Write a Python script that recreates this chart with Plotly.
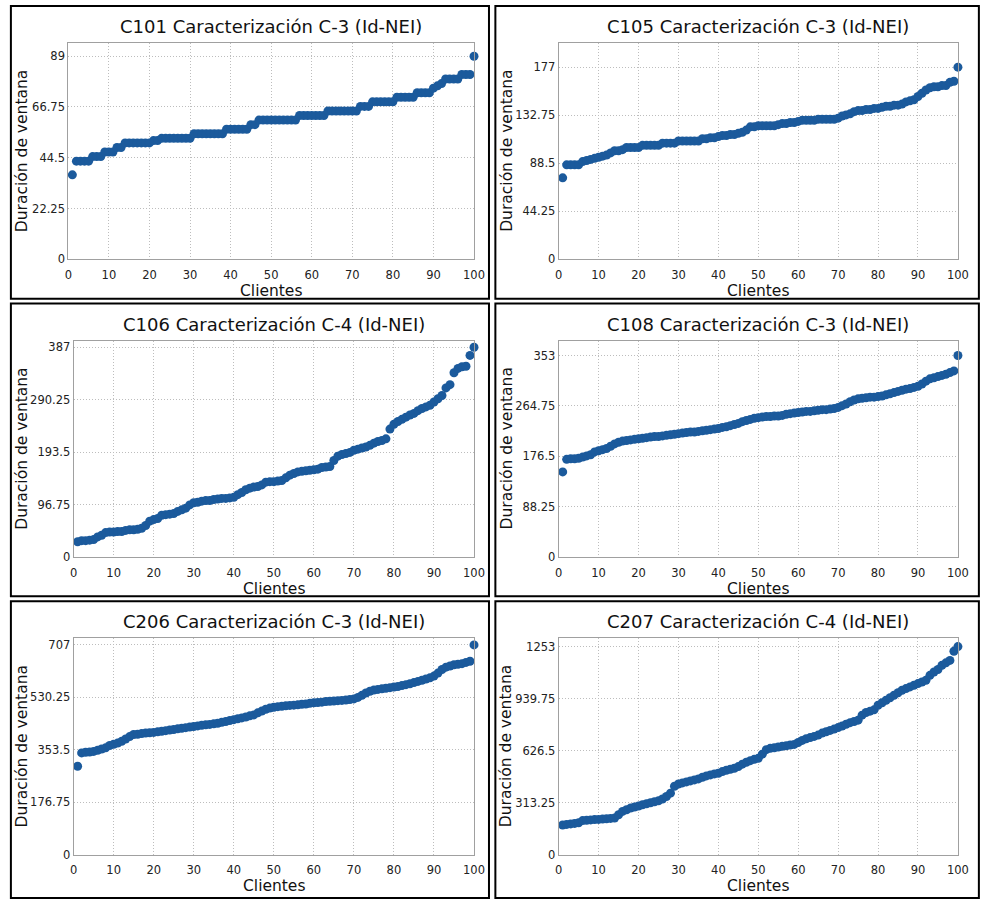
import plotly.graph_objects as go

W, H = 982, 900

clientes = list(range(1, 101))

titles = [
    "C101 Caracterización C-3 (Id-NEI)",
    "C105 Caracterización C-3 (Id-NEI)",
    "C106 Caracterización C-4 (Id-NEI)",
    "C108 Caracterización C-3 (Id-NEI)",
    "C206 Caracterización C-3 (Id-NEI)",
    "C207 Caracterización C-4 (Id-NEI)",
]

c101 = [37, 43, 43, 43, 43, 45, 45, 45, 47, 47,
        47, 49, 49, 51, 51, 51, 51, 51, 51, 51,
        52, 52, 53, 53, 53, 53, 53, 53, 53, 53,
        55, 55, 55, 55, 55, 55, 55, 55, 57, 57,
        57, 57, 57, 57, 59, 59, 61, 61, 61, 61,
        61, 61, 61, 61, 61, 61, 63, 63, 63, 63,
        63, 63, 63, 65, 65, 65, 65, 65, 65, 65,
        65, 67, 67, 67, 69, 69, 69, 69, 69, 69,
        71, 71, 71, 71, 71, 73, 73, 73, 73, 75,
        76, 77, 79, 79, 79, 79, 81, 81, 81, 89]

c105 = [75, 87, 87, 87, 87, 90, 91, 92, 93, 94,
        95, 96, 98, 100, 100, 101, 103, 103, 103, 103,
        105, 105, 105, 105, 105, 107, 107, 107, 107, 109,
        109, 109, 109, 109, 109, 111, 111, 112, 112, 113,
        114, 114, 115, 115, 116, 117, 119, 122, 122, 123,
        123, 123, 123, 123, 124, 125, 125, 126, 126, 127,
        128, 128, 128, 128, 129, 129, 129, 129, 129, 130,
        132, 133, 134, 136, 137, 137, 138, 138, 139, 139,
        140, 141, 141, 142, 142, 143, 145, 146, 147, 150,
        153, 156, 158, 159, 159, 160, 160, 163, 164, 177]

c106 = [28, 30, 30, 31, 32, 37, 40, 45, 46, 46,
        47, 47, 49, 50, 50, 51, 53, 58, 66, 69,
        71, 77, 78, 79, 80, 84, 87, 90, 96, 100,
        101, 103, 104, 104, 106, 107, 108, 108, 109, 110,
        115, 119, 124, 127, 129, 130, 133, 138, 139, 139,
        140, 141, 146, 151, 154, 157, 158, 159, 160, 161,
        162, 165, 166, 167, 178, 186, 189, 191, 193, 197,
        199, 201, 203, 206, 210, 213, 215, 218, 236, 245,
        250, 254, 258, 262, 265, 270, 274, 277, 280, 286,
        292, 298, 312, 318, 340, 348, 351, 352, 372, 387]

c108 = [149, 171, 172, 172, 173, 175, 177, 179, 184, 186,
        188, 190, 194, 198, 201, 203, 204, 205, 206, 207,
        208, 209, 210, 211, 211, 212, 213, 214, 215, 216,
        217, 218, 219, 219, 220, 221, 222, 223, 224, 225,
        227, 228, 230, 232, 234, 237, 239, 241, 243, 244,
        245, 246, 246, 247, 247, 248, 250, 251, 252, 253,
        254, 255, 255, 256, 257, 258, 258, 259, 260, 262,
        265, 268, 272, 275, 277, 278, 279, 280, 280, 281,
        282, 284, 286, 288, 290, 292, 294, 295, 297, 299,
        303, 308, 312, 314, 316, 318, 320, 323, 326, 353]

c206 = [298, 343, 345, 346, 348, 352, 356, 360, 368, 372,
        376, 382, 390, 398, 405, 406, 408, 410, 411, 412,
        414, 416, 418, 420, 422, 424, 426, 428, 430, 432,
        434, 436, 438, 439, 441, 443, 446, 449, 452, 455,
        458, 461, 464, 468, 471, 478, 484, 490, 494, 497,
        499, 500, 502, 503, 504, 505, 507, 508, 510, 512,
        513, 514, 516, 517, 518, 519, 520, 521, 523, 525,
        530, 537, 545, 551, 555, 557, 559, 561, 563, 565,
        567, 570, 573, 576, 580, 584, 588, 592, 596, 602,
        612, 624, 632, 636, 640, 642, 644, 648, 652, 707]

c207 = [178, 182, 185, 188, 192, 205, 207, 209, 211, 212,
        214, 216, 218, 220, 240, 260, 270, 280, 287, 293,
        300, 306, 312, 318, 324, 335, 350, 370, 412, 425,
        432, 438, 444, 450, 456, 466, 474, 480, 486, 490,
        500, 508, 514, 520, 530, 545, 556, 566, 574, 580,
        605, 632, 640, 644, 648, 652, 656, 660, 664, 675,
        688, 698, 705, 712, 720, 732, 740, 748, 756, 765,
        775, 785, 795, 802, 810, 840, 856, 864, 872, 900,
        915, 930, 945, 960, 975, 990, 1000, 1010, 1020, 1030,
        1040, 1050, 1080, 1100, 1115, 1140, 1155, 1170, 1225, 1253]

series = [c101, c105, c106, c108, c206, c207]

y_tickvals = [
    [0, 22.25, 44.5, 66.75, 89],
    [0, 44.25, 88.5, 132.75, 177],
    [0, 96.75, 193.5, 290.25, 387],
    [0, 88.25, 176.5, 264.75, 353],
    [0, 176.75, 353.5, 530.25, 707],
    [0, 313.25, 626.5, 939.75, 1253],
]
y_ticktext = [
    ["0", "22.25", "44.5", "66.75", "89"],
    ["0", "44.25", "88.5", "132.75", "177"],
    ["0", "96.75", "193.5", "290.25", "387"],
    ["0", "88.25", "176.5", "264.75", "353"],
    ["0", "176.75", "353.5", "530.25", "707"],
    ["0", "313.25", "626.5", "939.75", "1253"],
]
y_top = [94.8, 199.3, 399.3, 379.0, 729.4, 1303.0]

x_tickvals = [0, 10, 20, 30, 40, 50, 60, 70, 80, 90, 100]

xlabel = "Clientes"
ylabel = "Duración de ventana"

# layout geometry (pixels)
plot_left = [65.3, 563.3, 70.7, 563.3, 70.7, 563.3]
plot_right = [477.3, 968.7, 477.3, 968.7, 477.3, 968.7]
row_top = [43.3, 343.3, 643.3]
row_bot = [261.3, 561.3, 861.3]

FONT = "DejaVu Sans"
MARK = "#1b5a9c"

fig = go.Figure()
annotations = []
shapes = []

for i in range(6):
    r, c = divmod(i, 2)
    ax = "" if i == 0 else str(i + 1)
    fig.add_trace(go.Scatter(
        x=clientes, y=series[i], mode="markers",
        marker=dict(color=MARK, size=9, symbol="circle", line=dict(width=0)),
        cliponaxis=False, showlegend=False,
        xaxis="x" + ax, yaxis="y" + ax,
    ))
    xd = [plot_left[i] / W, plot_right[i] / W]
    yd = [1 - row_bot[r] / H, 1 - row_top[r] / H]
    common = dict(showline=True, mirror=True, linecolor="#a0a0a0", linewidth=1,
                  showgrid=True, gridcolor="#bdbdbd", griddash="1px,2px", gridwidth=1,
                  zeroline=False, ticks="", tickfont=dict(family=FONT, size=11.5, color="#222"))
    fig.layout["xaxis" + ax] = dict(domain=xd, range=[0, 100], tickvals=x_tickvals,
                                    anchor="y" + ax, ticklabelstandoff=5, **common)
    fig.layout["yaxis" + ax] = dict(domain=yd, range=[0, y_top[i]], tickvals=y_tickvals[i],
                                    ticktext=y_ticktext[i], anchor="x" + ax, **common)
    cx = (plot_left[i] + plot_right[i]) / 2
    cy = (row_top[r] + row_bot[r]) / 2
    annotations.append(dict(text=titles[i], x=cx / W, y=1 - (row_top[r] - 16.5) / H,
                            xref="paper", yref="paper", showarrow=False,
                            xanchor="center", yanchor="middle",
                            font=dict(family=FONT, size=18, color="#111")))
    annotations.append(dict(text=xlabel, x=cx / W, y=1 - (row_bot[r] + 32) / H,
                            xref="paper", yref="paper", showarrow=False,
                            xanchor="center", yanchor="middle",
                            font=dict(family=FONT, size=15.5, color="#111")))
    ylx = 18.3 if c == 0 else 510.5
    annotations.append(dict(text=ylabel, x=ylx / W, y=1 - cy / H, textangle=-90,
                            xref="paper", yref="paper", showarrow=False,
                            xanchor="center", yanchor="middle",
                            font=dict(family=FONT, size=15.5, color="#111")))
    # panel frame
    fx0, fx1 = (7, 492.5) if c == 0 else (499, 990)
    fy0, fy1 = 6 + 300 * r, 301 + 300 * r
    if r == 2:
        fy1 = 905
    shapes.append(dict(type="rect", xref="paper", yref="paper",
                       x0=fx0 / W, x1=fx1 / W, y0=1 - fy1 / H, y1=1 - fy0 / H,
                       line=dict(color="#000", width=2), fillcolor="rgba(0,0,0,0)"))

fig.update_layout(width=W, height=H, margin=dict(l=0, r=0, t=0, b=0),
                  paper_bgcolor="white", plot_bgcolor="white",
                  annotations=annotations, shapes=shapes,
                  font=dict(family=FONT))

fig.write_html("out.html")
